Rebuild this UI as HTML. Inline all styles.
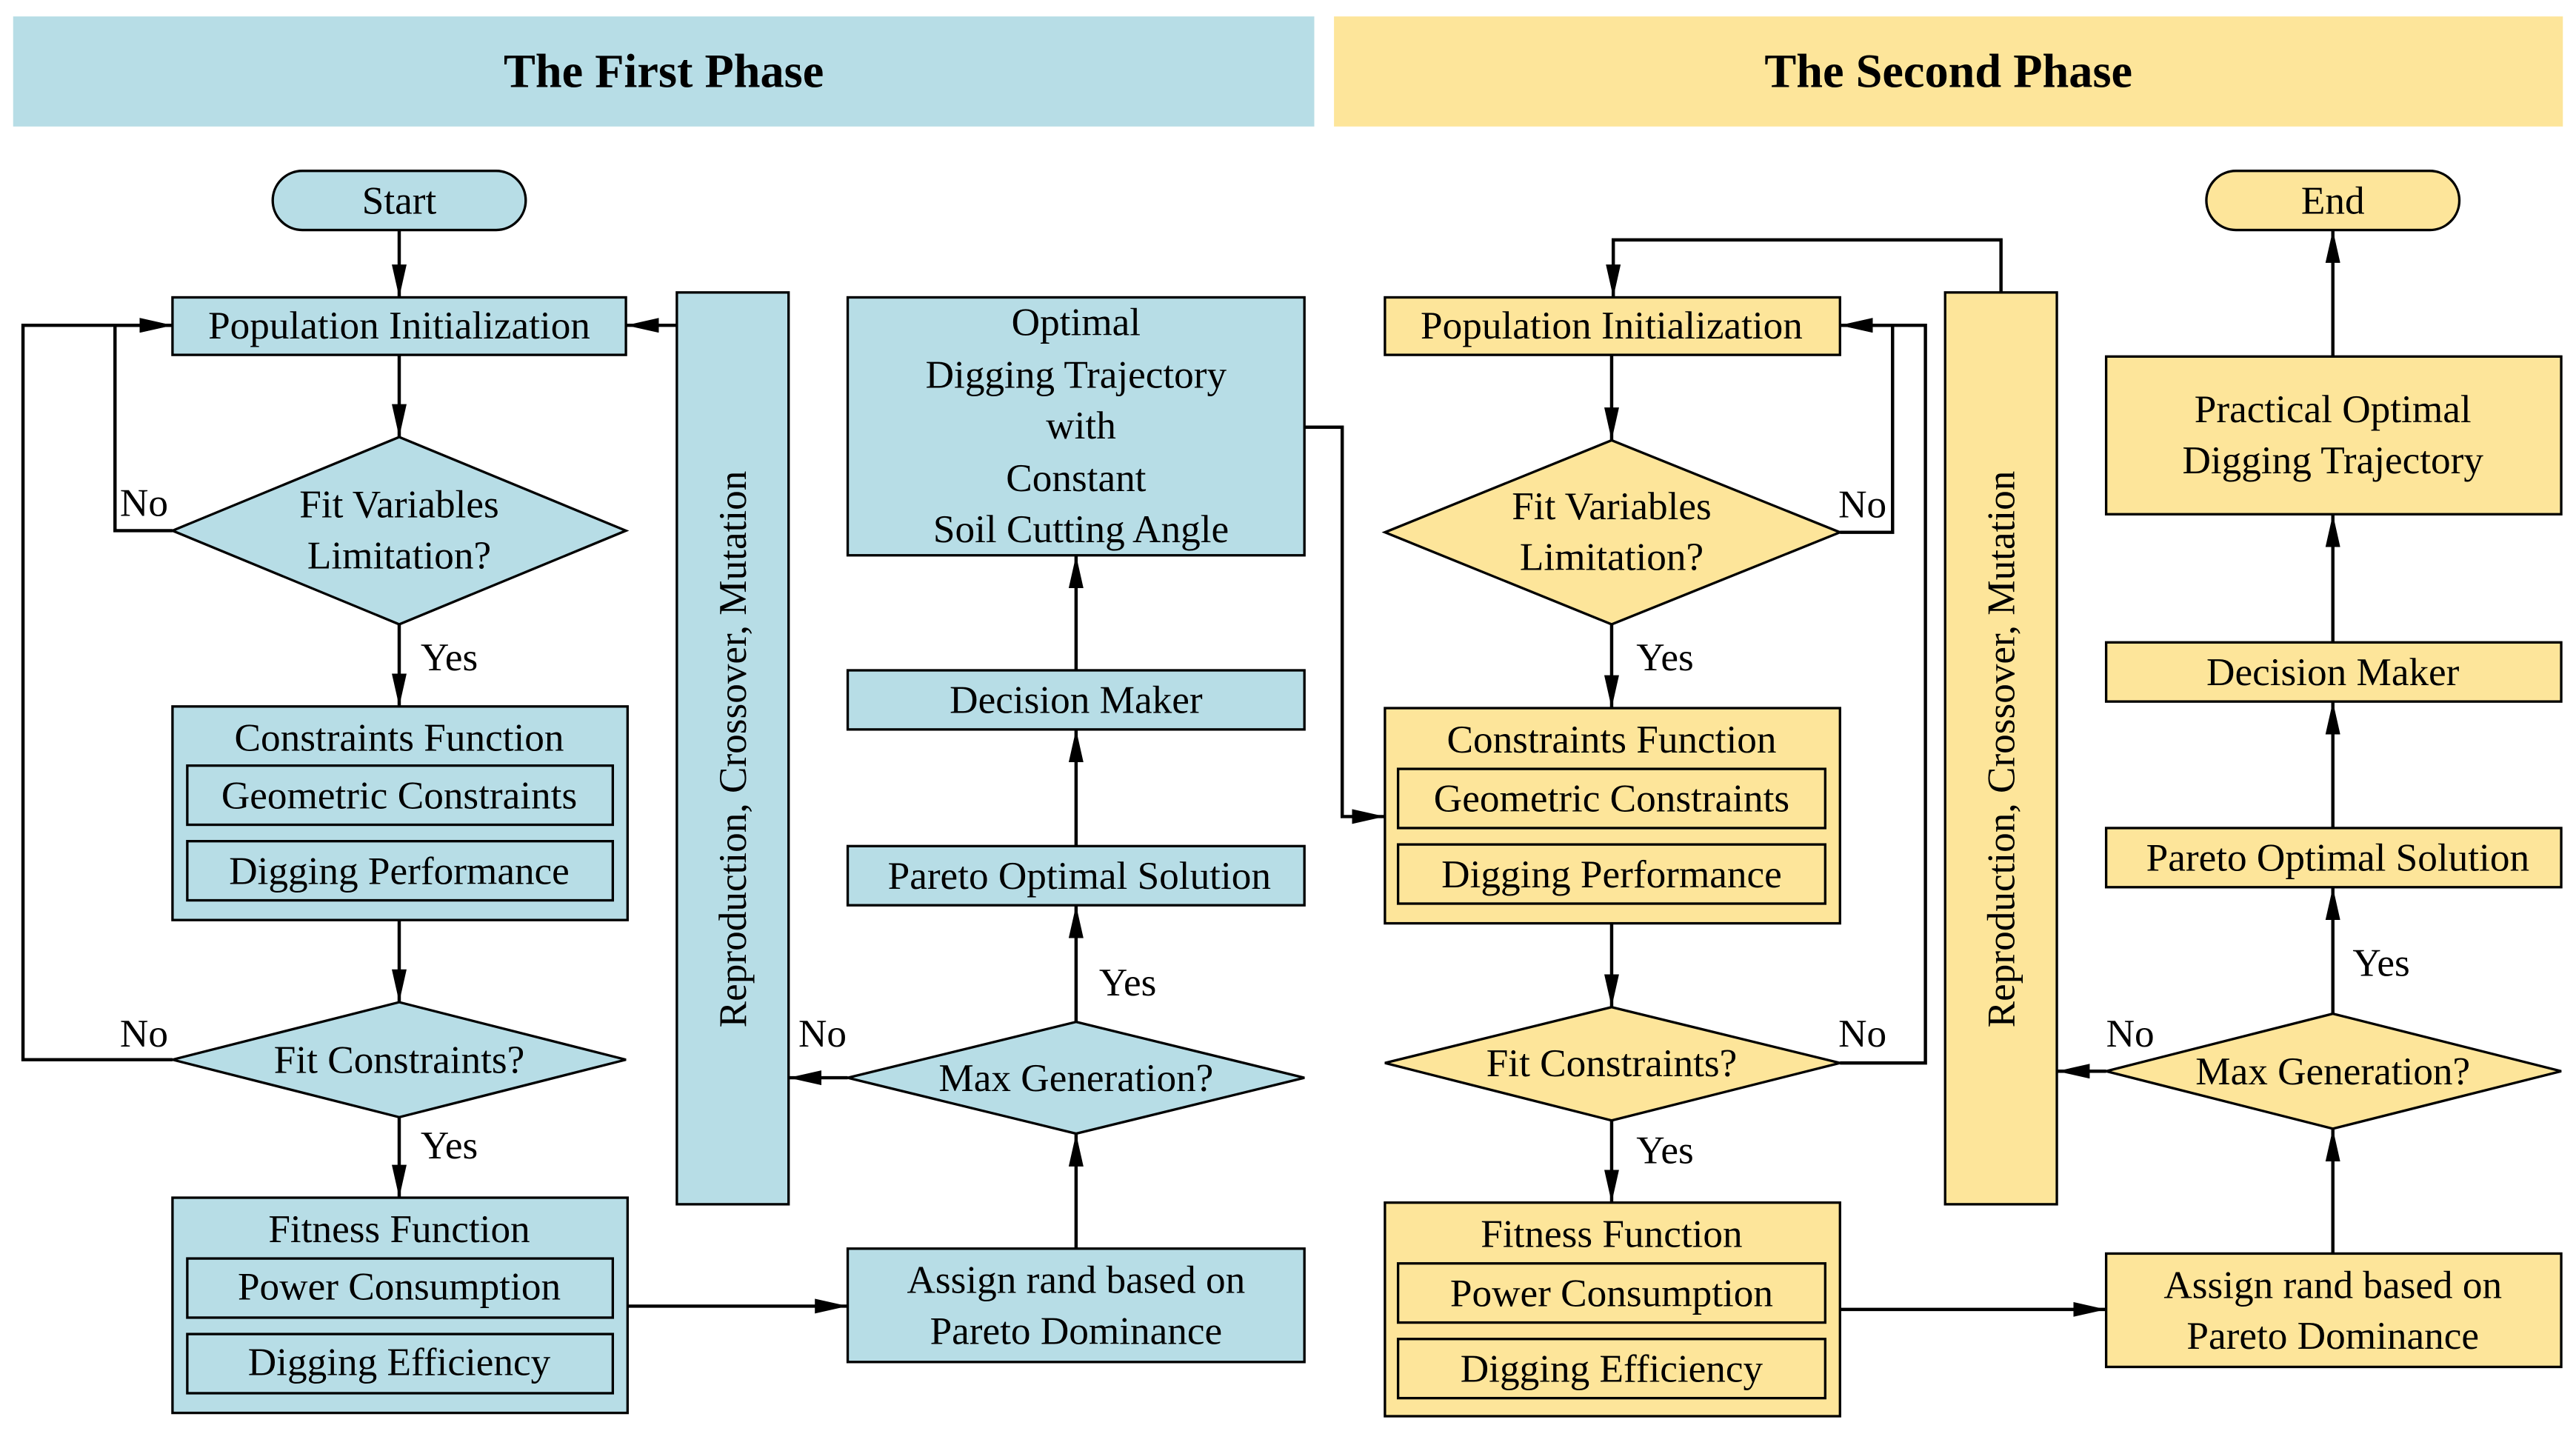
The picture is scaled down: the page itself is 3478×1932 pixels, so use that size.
<!DOCTYPE html>
<html><head><meta charset="utf-8"><style>
html,body{margin:0;padding:0;background:#fff;width:3478px;height:1932px;overflow:hidden}
svg{display:block}
svg text{font-family:"Liberation Serif","Times New Roman",Times,serif;font-size:24px;fill:#000}
.b{fill:#b7dde6;stroke:#000;stroke-width:1.5}
.y{fill:#fde59a;stroke:#000;stroke-width:1.5}
.l{fill:none;stroke:#000;stroke-width:2}
</style></head><body>
<svg width="3478" height="1932" viewBox="0 0 1568 871" xmlns="http://www.w3.org/2000/svg" font-family="Liberation Serif, serif">
<defs><marker id="a" markerWidth="20" markerHeight="9" refX="20" refY="4.5" orient="auto" markerUnits="userSpaceOnUse" viewBox="0 0 20 9"><path d="M0,0 L20,4.5 L0,9 Z" fill="#000"/></marker></defs>
<rect x="8" y="10" width="792" height="67" fill="#b7dde6"/>
<rect x="812" y="10" width="748" height="67" fill="#fde59a"/>
<text x="404" y="53" text-anchor="middle" style="font-size:29px;font-weight:bold">The First Phase</text>
<text x="1186" y="53" text-anchor="middle" style="font-size:29px;font-weight:bold">The Second Phase</text>

<g text-anchor="middle">
<rect class="b" x="166" y="104" width="154" height="36" rx="18"/><text x="243" y="130">Start</text>
<rect class="b" x="105" y="181" width="276" height="35"/><text x="243" y="206">Population Initialization</text>
<polygon class="b" points="243,266 381,323 243,380 105,323"/><text x="243" y="315">Fit Variables</text><text x="243" y="346">Limitation?</text>
<rect class="b" x="105" y="430" width="277" height="130"/><text x="243" y="457">Constraints Function</text>
<rect class="b" x="114" y="466" width="259" height="36"/><text x="243" y="492">Geometric Constraints</text>
<rect class="b" x="114" y="512" width="259" height="36"/><text x="243" y="538">Digging Performance</text>
<polygon class="b" points="243,610 381,645 243,680 105,645"/><text x="243" y="653">Fit Constraints?</text>
<rect class="b" x="105" y="729" width="277" height="131"/><text x="243" y="756">Fitness Function</text>
<rect class="b" x="114" y="766" width="259" height="36"/><text x="243" y="791">Power Consumption</text>
<rect class="b" x="114" y="812" width="259" height="36"/><text x="243" y="837">Digging Efficiency</text>
<rect class="b" x="412" y="178" width="68" height="555"/>
<text transform="translate(454,456) rotate(-90)">Reproduction, Crossover, Mutation</text>
<rect class="b" x="516" y="181" width="278" height="157"/>
<text x="655" y="204">Optimal</text><text x="655" y="236">Digging Trajectory</text><text x="658" y="267">with</text><text x="655" y="299">Constant</text><text x="658" y="330">Soil Cutting Angle</text>
<rect class="b" x="516" y="408" width="278" height="36"/><text x="655" y="434">Decision Maker</text>
<rect class="b" x="516" y="515" width="278" height="36"/><text x="657" y="541">Pareto Optimal Solution</text>
<polygon class="b" points="655,622 794,656 655,690 516,656"/><text x="655" y="664">Max Generation?</text>
<rect class="b" x="516" y="760" width="278" height="69"/><text x="655" y="787">Assign rand based on</text><text x="655" y="818">Pareto Dominance</text>

<rect class="y" x="843" y="181" width="277" height="35"/><text x="981" y="206">Population Initialization</text>
<polygon class="y" points="981,268 1120,324 981,380 843,324"/><text x="981" y="316">Fit Variables</text><text x="981" y="347">Limitation?</text>
<rect class="y" x="843" y="431" width="277" height="131"/><text x="981" y="458">Constraints Function</text>
<rect class="y" x="851" y="468" width="260" height="36"/><text x="981" y="494">Geometric Constraints</text>
<rect class="y" x="851" y="514" width="260" height="36"/><text x="981" y="540">Digging Performance</text>
<polygon class="y" points="981,613 1120,647 981,682 843,647"/><text x="981" y="655">Fit Constraints?</text>
<rect class="y" x="843" y="732" width="277" height="130"/><text x="981" y="759">Fitness Function</text>
<rect class="y" x="851" y="769" width="260" height="36"/><text x="981" y="795">Power Consumption</text>
<rect class="y" x="851" y="815" width="260" height="36"/><text x="981" y="841">Digging Efficiency</text>
<rect class="y" x="1184" y="178" width="68" height="555"/>
<text transform="translate(1226,456) rotate(-90)">Reproduction, Crossover, Mutation</text>
<rect class="y" x="1343" y="104" width="154" height="36" rx="18"/><text x="1420" y="130">End</text>
<rect class="y" x="1282" y="217" width="277" height="96"/><text x="1420" y="257">Practical Optimal</text><text x="1420" y="288">Digging Trajectory</text>
<rect class="y" x="1282" y="391" width="277" height="36"/><text x="1420" y="417">Decision Maker</text>
<rect class="y" x="1282" y="504" width="277" height="36"/><text x="1423" y="530">Pareto Optimal Solution</text>
<polygon class="y" points="1420,617 1559,652 1420,687 1282,652"/><text x="1420" y="660">Max Generation?</text>
<rect class="y" x="1282" y="763" width="277" height="69"/><text x="1420" y="790">Assign rand based on</text><text x="1420" y="821">Pareto Dominance</text>
</g>

<path class="l" d="M243,140 V181" marker-end="url(#a)"/>
<path class="l" d="M243,216 V266" marker-end="url(#a)"/>
<path class="l" d="M243,380 V430" marker-end="url(#a)"/>
<path class="l" d="M243,560 V610" marker-end="url(#a)"/>
<path class="l" d="M243,680 V729" marker-end="url(#a)"/>
<path class="l" d="M105,323 H70 V198 H105" marker-end="url(#a)"/>
<path class="l" d="M105,645 H14 V198 H105" marker-end="url(#a)"/>
<path class="l" d="M412,198 H381" marker-end="url(#a)"/>
<path class="l" d="M516,656 H480" marker-end="url(#a)"/>
<path class="l" d="M382,795 H516" marker-end="url(#a)"/>
<path class="l" d="M655,760 V690" marker-end="url(#a)"/>
<path class="l" d="M655,622 V551" marker-end="url(#a)"/>
<path class="l" d="M655,515 V444" marker-end="url(#a)"/>
<path class="l" d="M655,408 V338" marker-end="url(#a)"/>
<path class="l" d="M794,260 H817 V497 H843" marker-end="url(#a)"/>
<path class="l" d="M1218,178 V146 H982 V181" marker-end="url(#a)"/>
<path class="l" d="M981,216 V268" marker-end="url(#a)"/>
<path class="l" d="M981,380 V431" marker-end="url(#a)"/>
<path class="l" d="M981,562 V613" marker-end="url(#a)"/>
<path class="l" d="M981,682 V732" marker-end="url(#a)"/>
<path class="l" d="M1120,324 H1152 V198 H1120" marker-end="url(#a)"/>
<path class="l" d="M1120,647 H1172 V198 H1120" marker-end="url(#a)"/>
<path class="l" d="M1120,797 H1282" marker-end="url(#a)"/>
<path class="l" d="M1282,652 H1252" marker-end="url(#a)"/>
<path class="l" d="M1420,763 V687" marker-end="url(#a)"/>
<path class="l" d="M1420,617 V540" marker-end="url(#a)"/>
<path class="l" d="M1420,504 V427" marker-end="url(#a)"/>
<path class="l" d="M1420,391 V313" marker-end="url(#a)"/>
<path class="l" d="M1420,217 V140" marker-end="url(#a)"/>

<text x="73" y="314">No</text><text x="256" y="408">Yes</text>
<text x="73" y="637">No</text><text x="256" y="705">Yes</text>
<text x="486" y="637">No</text><text x="669" y="606">Yes</text>
<text x="1119" y="315">No</text><text x="996" y="408">Yes</text>
<text x="1119" y="637">No</text><text x="996" y="708">Yes</text>
<text x="1282" y="637">No</text><text x="1432" y="594">Yes</text>
</svg>
</body></html>
